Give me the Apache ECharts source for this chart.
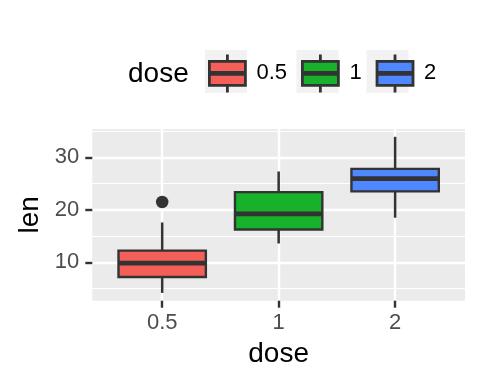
<!DOCTYPE html>
<html>
<head>
<meta charset="utf-8">
<script src="https://cdn.jsdelivr.net/npm/echarts@6/dist/echarts.min.js"></script>
<style>
html,body{margin:0;padding:0;background:#fff;}
#chart{width:480px;height:384px;}
</style>
</head>
<body>
<div id="chart"></div>
<script>
// ToothGrowth: len by dose
const doses = ['0.5', '1', '2'];
const lenMin = [4.2, 13.6, 18.5];
const lenQ1 = [7.225, 16.25, 23.525];
const lenMedian = [9.85, 19.25, 25.95];
const lenQ3 = [12.25, 23.375, 27.8];
const lenMax = [17.6, 27.3, 33.9];
const outlierDoseIndex = [0];
const outlierLen = [21.5];
const yTicks = [10, 20, 30];
const yMinorTicks = [5, 15, 25, 35];
const fillColors = ['#F45F5A', '#17B12B', '#4E87FF'];

const FONT = "'Liberation Sans', Arial, Helvetica, sans-serif";
const DARK = '#333333';

const yMin = 2.715, yMax = 35.385;
const xPositions = doses.map((d, i) => i + 1);

function renderBox(params, api) {
  const x = api.value(0);
  const pMin = api.coord([x, api.value(1)]);
  const pQ1 = api.coord([x, api.value(2)]);
  const pMed = api.coord([x, api.value(3)]);
  const pQ3 = api.coord([x, api.value(4)]);
  const pMax = api.coord([x, api.value(5)]);
  const halfW = api.size([0.75, 0])[0] / 2;
  const fill = api.visual('color');
  return {
    type: 'group',
    children: [
      { type: 'line', shape: { x1: pMin[0], y1: pMin[1], x2: pQ1[0], y2: pQ1[1] },
        style: { stroke: DARK, lineWidth: 2.5 } },
      { type: 'line', shape: { x1: pQ3[0], y1: pQ3[1], x2: pMax[0], y2: pMax[1] },
        style: { stroke: DARK, lineWidth: 2.5 } },
      { type: 'rect', shape: { x: pQ3[0] - halfW, y: pQ3[1], width: halfW * 2, height: pQ1[1] - pQ3[1] },
        style: { fill: fill, stroke: DARK, lineWidth: 2.4 } },
      { type: 'line', shape: { x1: pMed[0] - halfW, y1: pMed[1], x2: pMed[0] + halfW, y2: pMed[1] },
        style: { stroke: DARK, lineWidth: 4.8 } }
    ]
  };
}

const boxSeries = doses.map((d, i) => ({
  name: d,
  type: 'custom',
  xAxisIndex: 0,
  yAxisIndex: 0,
  renderItem: renderBox,
  itemStyle: { color: fillColors[i] },
  encode: { x: 0, y: [1, 2, 3, 4, 5] },
  data: [[xPositions[i], lenMin[i], lenQ1[i], lenMedian[i], lenQ3[i], lenMax[i]]],
  z: 3
}));

const outlierSeries = {
  name: 'outlier',
  type: 'scatter',
  xAxisIndex: 0,
  yAxisIndex: 0,
  symbol: 'circle',
  symbolSize: 12.5,
  itemStyle: { color: DARK, opacity: 1 },
  data: outlierDoseIndex.map((di, k) => [xPositions[di], outlierLen[k]]),
  z: 4
};

const legendIcon = 'path://M18 0L18 7M0 7H36V31H0ZM0 18H36V20H0ZM18 31L18 38';

const chart = echarts.init(document.getElementById('chart'), null, { renderer: 'canvas' });
chart.setOption({
  animation: false,
  backgroundColor: '#ffffff',
  textStyle: { fontFamily: FONT },
  grid: {
    left: 92.3, right: 15, top: 129, bottom: 83.3,
    show: true, backgroundColor: '#EBEBEB', borderWidth: 0,
    containLabel: false
  },
  graphic: [
    { type: 'text', left: 128, top: 60, style: { text: 'dose', fontSize: 28, fontFamily: FONT, fill: '#000' } },
    { type: 'rect', shape: { x: 205, y: 50, width: 42, height: 43 }, style: { fill: '#F2F2F2' }, z: -1 },
    { type: 'rect', shape: { x: 296.5, y: 50, width: 42, height: 43 }, style: { fill: '#F2F2F2' }, z: -1 },
    { type: 'rect', shape: { x: 366.5, y: 50, width: 42, height: 43 }, style: { fill: '#F2F2F2' }, z: -1 }
  ],
  legend: {
    data: doses,
    left: 208,
    top: 53,
    padding: 0,
    orient: 'horizontal',
    itemWidth: 36,
    itemHeight: 38,
    itemGap: 14,
    icon: legendIcon,
    selectedMode: false,
    itemStyle: { borderColor: DARK, borderWidth: 2.8 },
    textStyle: { fontSize: 22, color: '#000', fontFamily: FONT, padding: [0, 0, 0, 6] }
  },
  xAxis: [{
    type: 'value',
    min: 0.4,
    max: 3.6,
    name: 'dose',
    nameLocation: 'middle',
    nameGap: 40,
    nameTextStyle: { fontSize: 28, color: '#000', fontFamily: FONT },
    axisLine: { show: false },
    axisTick: { show: true, customValues: xPositions, length: 7, lineStyle: { color: DARK, width: 2.4 } },
    axisLabel: {
      show: true, customValues: xPositions, margin: 11,
      fontSize: 22, color: '#4D4D4D', fontFamily: FONT,
      formatter: v => doses[Math.round(v) - 1]
    },
    splitLine: { show: true, lineStyle: { color: '#FFFFFF', width: 2.4 } }
  }],
  yAxis: [{
    type: 'value',
    min: yMin,
    max: yMax,
    name: 'len',
    nameLocation: 'middle',
    nameGap: 44,
    nameTextStyle: { fontSize: 28, color: '#000', fontFamily: FONT },
    axisLine: { show: false },
    axisTick: { show: true, customValues: yTicks, length: 7, lineStyle: { color: DARK, width: 2.4 } },
    axisLabel: { show: true, customValues: yTicks, margin: 13, fontSize: 22, color: '#4D4D4D', fontFamily: FONT },
    splitLine: { show: true, lineStyle: { color: '#FFFFFF', width: 2.4 } }
  }, {
    type: 'value',
    min: yMin,
    max: yMax,
    position: 'left',
    axisLine: { show: false },
    axisTick: { show: false, customValues: yMinorTicks },
    axisLabel: { show: false, customValues: yMinorTicks },
    splitLine: { show: true, lineStyle: { color: '#FFFFFF', width: 1.2 } }
  }],
  series: boxSeries.concat([outlierSeries])
});
</script>
</body>
</html>
